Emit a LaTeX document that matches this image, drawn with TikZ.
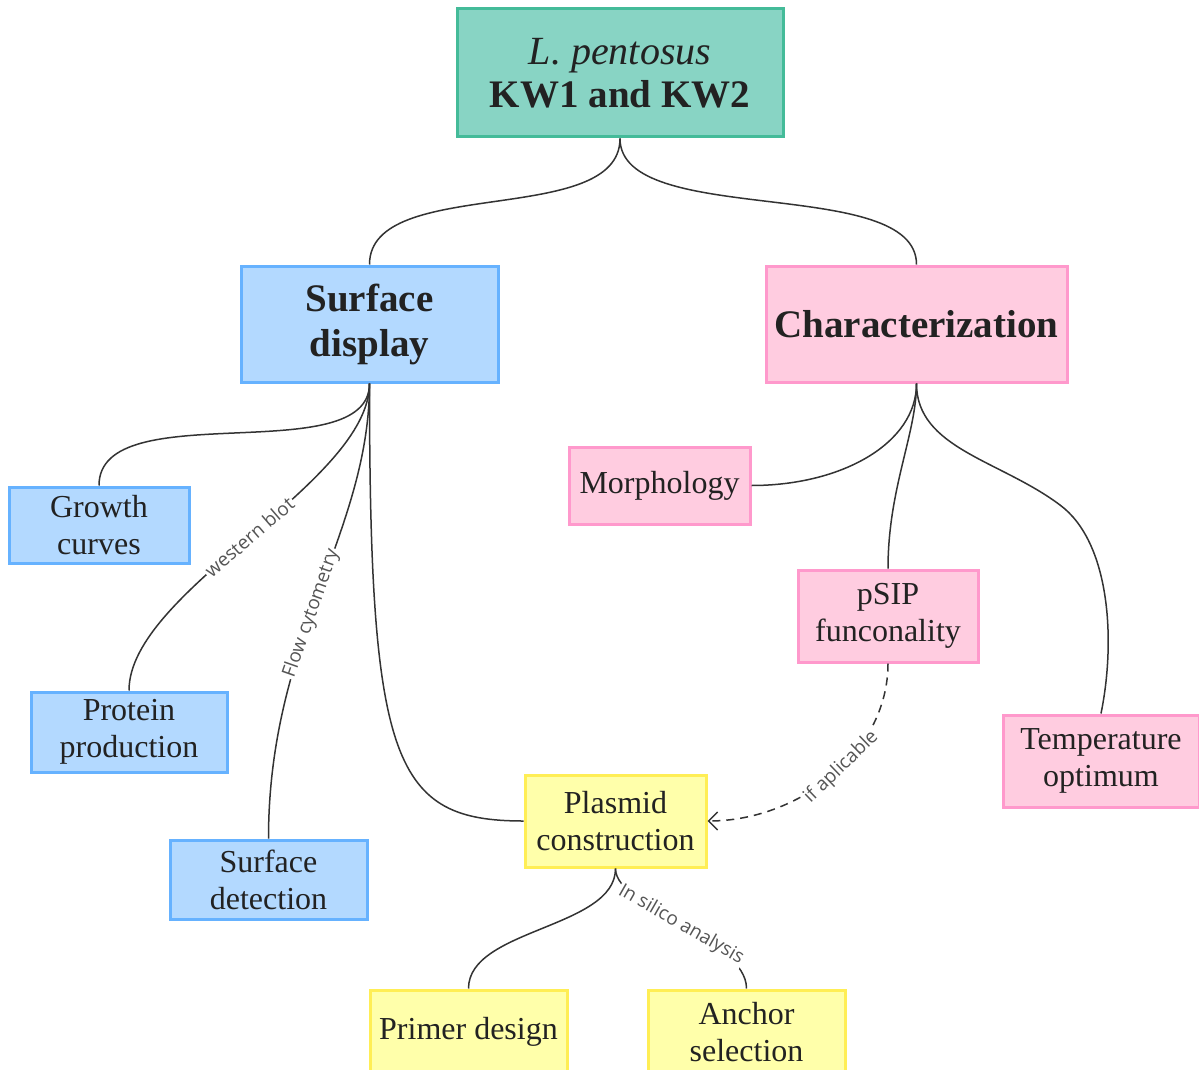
\documentclass[tikz,border=0pt]{standalone}
\usepackage{fontspec}
\setmainfont{Liberation Serif}
\newfontfamily\labelfont{Open Sans}
\usetikzlibrary{arrows.meta}
\definecolor{tealfill}{HTML}{88D4C4}
\definecolor{tealline}{HTML}{44BB99}
\definecolor{bluefill}{HTML}{B3D9FF}
\definecolor{blueline}{HTML}{66B2FF}
\definecolor{pinkfill}{HTML}{FFCCE0}
\definecolor{pinkline}{HTML}{FF99CC}
\definecolor{yelfill}{HTML}{FFFFAA}
\definecolor{yelline}{HTML}{FFEE55}
\definecolor{txt}{HTML}{222222}
\definecolor{wire}{HTML}{333333}
\definecolor{lbltxt}{HTML}{555555}
\begin{document}
\begin{tikzpicture}[x=1pt,y=-1pt,
  box/.style={draw, line width=3pt, rectangle, align=center, text=txt, inner sep=2pt},
  bigtxt/.style={font=\bfseries\fontsize{39}{45}\selectfont},
  smalltxt/.style={font=\fontsize{32}{37}\selectfont},
  tealbox/.style={box, fill=tealfill, draw=tealline},
  bluebox/.style={box, fill=bluefill, draw=blueline},
  pinkbox/.style={box, fill=pinkfill, draw=pinkline},
  yelbox/.style={box, fill=yelfill, draw=yelline},
  wirestyle/.style={draw=wire, line width=1.5pt},
  lbl/.style={sloped, fill=white, inner sep=1.5pt, text=lbltxt, font=\labelfont\fontsize{19}{22}\selectfont}
]
\useasboundingbox (0,0) rectangle (1199,1070);
\fill[white] (0,0) rectangle (1199,1070);

% nodes
\node[tealbox, minimum width=326, minimum height=128] (top) at (620,73)
  {{\itshape\fontsize{40}{46}\selectfont L. pentosus}\\[6pt]{\bfseries\fontsize{39}{45}\selectfont KW1 and KW2}};
\node[bluebox, bigtxt, minimum width=257, minimum height=116] (sd) at (369.5,324) {Surface\\display};
\node[pinkbox, bigtxt, minimum width=301, minimum height=116] (ch) at (916.5,324) {Characterization};
\node[bluebox, smalltxt, minimum width=180, minimum height=76] (gc) at (99,525) {Growth\\curves};
\node[bluebox, smalltxt, minimum width=196, minimum height=80] (pp) at (129,732) {Protein\\production};
\node[bluebox, smalltxt, minimum width=197, minimum height=79] (sdet) at (268.5,879.5) {Surface\\detection};
\node[pinkbox, smalltxt, minimum width=181, minimum height=77] (mo) at (659.5,485.5) {Morphology};
\node[pinkbox, smalltxt, minimum width=180, minimum height=92] (ps) at (888,616) {pSIP\\funconality};
\node[pinkbox, smalltxt, minimum width=196, minimum height=92] (to) at (1101,761) {Temperature\\optimum};
\node[yelbox, smalltxt, minimum width=181, minimum height=92] (pc) at (615.5,821) {Plasmid\\construction};
\node[yelbox, smalltxt, minimum width=197, minimum height=84] (pd) at (468.5,1032) {Primer design};
\node[yelbox, smalltxt, minimum width=197, minimum height=84] (as) at (746.5,1032) {Anchor\\selection};

% connectors
\draw[wirestyle] (top.south) .. controls +(0,90) and +(0,-90) .. (sd.north);
\draw[wirestyle] (top.south) .. controls +(0,90) and +(0,-90) .. (ch.north);
\draw[wirestyle] (sd.south) .. controls +(0,88) and +(0,-92) .. (gc.north);
\draw[wirestyle] (sd.south) .. controls +(0,100) and +(0,-100) .. node[lbl, pos=0.5] {western blot} (pp.north);
\draw[wirestyle] (sd.south) .. controls +(0,150) and +(0,-200) .. node[lbl, pos=0.55] {Flow cytometry} (sdet.north);
\draw[wirestyle] (sd.south) .. controls +(0,380) and +(-130,0) .. (pc.west);
\draw[wirestyle] (ch.south) .. controls +(0,60) and +(90,0) .. (mo.east);
\draw[wirestyle] (ch.south) .. controls +(0,50) and +(0,-80) .. (ps.north);
\draw[wirestyle] (ch.south) .. controls +(0,65) and (1000,460) .. (1060,505)
  .. controls (1110,542) and (1116,640) .. (to.north);
\draw[wirestyle, dash pattern=on 8pt off 6pt, -{Straight Barb[length=9pt,width=18pt]}] (ps.south) .. controls +(0,90) and +(90,0) .. node[lbl, pos=0.45] {if aplicable} (pc.east);
\draw[wirestyle] (pc.south) .. controls +(0,60) and +(0,-60) .. (pd.north);
\draw[wirestyle] (pc.south) .. controls +(0,40) and +(0,-50) .. node[lbl, pos=0.5] {In silico analysis} (as.north);
\end{tikzpicture}
\end{document}
